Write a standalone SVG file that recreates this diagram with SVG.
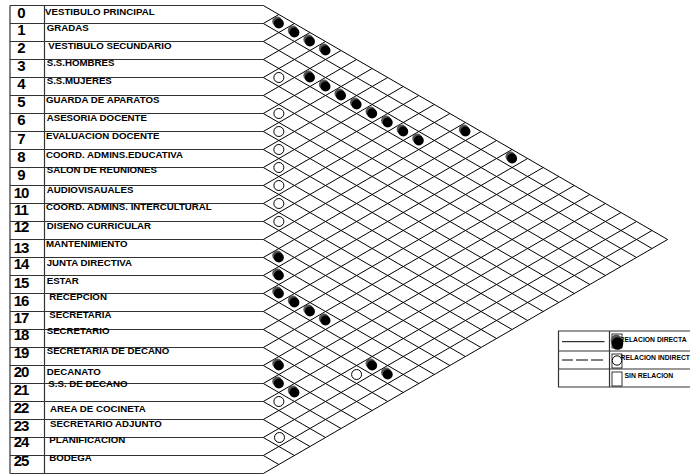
<svg xmlns="http://www.w3.org/2000/svg" xmlns:xlink="http://www.w3.org/1999/xlink" width="690" height="474" viewBox="0 0 690 474">
<style>
.num{font-family:"Liberation Sans",Arial,sans-serif;font-weight:bold;font-size:15px;text-anchor:middle;letter-spacing:-1px;fill:#000}
.lbl{font-family:"Liberation Sans",Arial,sans-serif;font-weight:bold;font-size:9.7px;fill:#000}
.lg{font-family:"Liberation Sans",Arial,sans-serif;font-weight:bold;font-size:6.8px;fill:#000}
.tbl{stroke:#333;stroke-width:1.2;fill:none}
.grid{stroke:#000;stroke-width:1;fill:none}
.open{fill:#fff;stroke:#000;stroke-width:1}
</style>
<defs>
<g id="dotF"><circle cx="-1.6" cy="-2" r="5" fill="#555"/><circle cx="0" cy="0" r="5" fill="#000"/></g>
</defs>
<rect width="690" height="474" fill="#fff"/>
<g id="table">
<path class="tbl" d="M10 5.5V473.5M44.5 5.5V473.5"/>
<path class="tbl" d="M10 5.5H263.3M10 23.5H263.3M10 41.5H263.3M10 59.5H263.3M10 77.5H263.3M10 95.5H263.3M10 113.5H263.3M10 131.5H263.3M10 149.5H263.3M10 167.5H263.3M10 185.5H263.3M10 203.5H263.3M10 221.5H263.3M10 239.5H263.3M10 257.5H263.3M10 275.5H263.3M10 293.5H263.3M10 311.5H263.3M10 329.5H263.3M10 347.5H263.3M10 365.5H263.3M10 383.5H263.3M10 401.5H263.3M10 419.5H263.3M10 437.5H263.3M10 455.5H263.3M10 473.5H263.3"/>
</g>
<g id="row-0"><text class="num" x="21" y="17.5">0</text><text class="lbl" x="45" y="15">VESTIBULO PRINCIPAL</text></g>
<g id="row-1"><text class="num" x="21" y="35">1</text><text class="lbl" x="46.7" y="30.7">GRADAS</text></g>
<g id="row-2"><text class="num" x="21" y="53">2</text><text class="lbl" x="48.3" y="49.3">VESTIBULO SECUNDARIO</text></g>
<g id="row-3"><text class="num" x="21" y="71">3</text><text class="lbl" x="46.7" y="66">S.S.HOMBRES</text></g>
<g id="row-4"><text class="num" x="21" y="89">4</text><text class="lbl" x="46.7" y="84">S.S.MUJERES</text></g>
<g id="row-5"><text class="num" x="21" y="107">5</text><text class="lbl" x="46" y="102.7">GUARDA DE APARATOS</text></g>
<g id="row-6"><text class="num" x="21" y="125">6</text><text class="lbl" x="46.7" y="121">ASESORIA DOCENTE</text></g>
<g id="row-7"><text class="num" x="21" y="143.5">7</text><text class="lbl" x="46" y="139.3">EVALUACION DOCENTE</text></g>
<g id="row-8"><text class="num" x="21" y="161.5">8</text><text class="lbl" x="46" y="158.3">COORD. ADMINS.EDUCATIVA</text></g>
<g id="row-9"><text class="num" x="21" y="179.5">9</text><text class="lbl" x="46.7" y="173.3">SALON DE REUNIONES</text></g>
<g id="row-10"><text class="num" x="21" y="198">10</text><text class="lbl" x="46.7" y="192.7">AUDIOVISAUALES</text></g>
<g id="row-11"><text class="num" x="21" y="215">11</text><text class="lbl" x="46" y="210">COORD. ADMINS. INTERCULTURAL</text></g>
<g id="row-12"><text class="num" x="21" y="232">12</text><text class="lbl" x="46.7" y="229">DISEÑO CURRICULAR</text></g>
<g id="row-13"><text class="num" x="21" y="252.5">13</text><text class="lbl" x="46" y="247.3">MANTENIMIENTO</text></g>
<g id="row-14"><text class="num" x="21" y="269.3">14</text><text class="lbl" x="46.7" y="266">JUNTA DIRECTIVA</text></g>
<g id="row-15"><text class="num" x="21" y="287.7">15</text><text class="lbl" x="46.7" y="284.3">ESTAR</text></g>
<g id="row-16"><text class="num" x="21" y="306">16</text><text class="lbl" x="49.3" y="300">RECEPCION</text></g>
<g id="row-17"><text class="num" x="21" y="323.3">17</text><text class="lbl" x="49.3" y="317.7">SECRETARIA</text></g>
<g id="row-18"><text class="num" x="21" y="340">18</text><text class="lbl" x="46.7" y="334">SECRETARIO</text></g>
<g id="row-19"><text class="num" x="21" y="358.3">19</text><text class="lbl" x="46.7" y="354">SECRETARIA DE DECANO</text></g>
<g id="row-20"><text class="num" x="21" y="377.3">20</text><text class="lbl" x="46.7" y="375">DECANATO</text></g>
<g id="row-21"><text class="num" x="21" y="395">21</text><text class="lbl" x="48.3" y="386.7">S.S. DE DECANO</text></g>
<g id="row-22"><text class="num" x="21" y="413.3">22</text><text class="lbl" x="50" y="411.7">AREA DE COCINETA</text></g>
<g id="row-23"><text class="num" x="21" y="430.7">23</text><text class="lbl" x="50" y="426.7">SECRETARIO ADJUNTO</text></g>
<g id="row-24"><text class="num" x="21" y="447.3">24</text><text class="lbl" x="49.3" y="443.3">PLANIFICACION</text></g>
<g id="row-25"><text class="num" x="21" y="466">25</text><text class="lbl" x="49.3" y="461">BODEGA</text></g>
<g id="connectors">
<path class="grid" d="M263.3 5.5L667.6 239.5M263.3 23.5L652.05 248.5M263.3 41.5L636.5 257.5M263.3 59.5L620.95 266.5M263.3 77.5L605.4 275.5M263.3 95.5L589.85 284.5M263.3 113.5L574.3 293.5M263.3 131.5L558.75 302.5M263.3 149.5L543.2 311.5M263.3 167.5L527.65 320.5M263.3 185.5L512.1 329.5M263.3 203.5L496.55 338.5M263.3 221.5L481 347.5M263.3 239.5L465.45 356.5M263.3 257.5L449.9 365.5M263.3 275.5L434.35 374.5M263.3 293.5L418.8 383.5M263.3 311.5L403.25 392.5M263.3 329.5L387.7 401.5M263.3 347.5L372.15 410.5M263.3 365.5L356.6 419.5M263.3 383.5L341.05 428.5M263.3 401.5L325.5 437.5M263.3 419.5L309.95 446.5M263.3 437.5L294.4 455.5M263.3 455.5L278.85 464.5"/>
<path class="grid" d="M263.3 23.5L278.85 14.5M263.3 41.5L294.4 23.5M263.3 59.5L309.95 32.5M263.3 77.5L325.5 41.5M263.3 95.5L341.05 50.5M263.3 113.5L356.6 59.5M263.3 131.5L372.15 68.5M263.3 149.5L387.7 77.5M263.3 167.5L403.25 86.5M263.3 185.5L418.8 95.5M263.3 203.5L434.35 104.5M263.3 221.5L449.9 113.5M263.3 239.5L465.45 122.5M263.3 257.5L481 131.5M263.3 275.5L496.55 140.5M263.3 293.5L512.1 149.5M263.3 311.5L527.65 158.5M263.3 329.5L543.2 167.5M263.3 347.5L558.75 176.5M263.3 365.5L574.3 185.5M263.3 383.5L589.85 194.5M263.3 401.5L605.4 203.5M263.3 419.5L620.95 212.5M263.3 437.5L636.5 221.5M263.3 455.5L652.05 230.5M263.3 473.5L667.6 239.5"/>
</g>
<g id="relations">
<use xlink:href="#dotF" x="278.85" y="23.5"/>
<use xlink:href="#dotF" x="294.4" y="32.5"/>
<use xlink:href="#dotF" x="309.95" y="41.5"/>
<use xlink:href="#dotF" x="325.5" y="50.5"/>
<use xlink:href="#dotF" x="309.95" y="77.5"/>
<use xlink:href="#dotF" x="325.5" y="86.5"/>
<use xlink:href="#dotF" x="341.05" y="95.5"/>
<use xlink:href="#dotF" x="356.6" y="104.5"/>
<use xlink:href="#dotF" x="372.15" y="113.5"/>
<use xlink:href="#dotF" x="387.7" y="122.5"/>
<use xlink:href="#dotF" x="403.25" y="131.5"/>
<use xlink:href="#dotF" x="418.8" y="140.5"/>
<use xlink:href="#dotF" x="465.45" y="131.5"/>
<use xlink:href="#dotF" x="512.1" y="158.5"/>
<use xlink:href="#dotF" x="278.85" y="257.5"/>
<use xlink:href="#dotF" x="278.85" y="275.5"/>
<use xlink:href="#dotF" x="278.85" y="293.5"/>
<use xlink:href="#dotF" x="294.4" y="302.5"/>
<use xlink:href="#dotF" x="309.95" y="311.5"/>
<use xlink:href="#dotF" x="325.5" y="320.5"/>
<use xlink:href="#dotF" x="278.85" y="365.5"/>
<use xlink:href="#dotF" x="278.85" y="383.5"/>
<use xlink:href="#dotF" x="294.4" y="392.5"/>
<use xlink:href="#dotF" x="372.15" y="365.5"/>
<use xlink:href="#dotF" x="387.7" y="374.5"/>
<circle class="open" cx="278.85" cy="77.5" r="5"/>
<circle class="open" cx="278.85" cy="113.5" r="5"/>
<circle class="open" cx="278.85" cy="131.5" r="5"/>
<circle class="open" cx="278.85" cy="149.5" r="5"/>
<circle class="open" cx="278.85" cy="167.5" r="5"/>
<circle class="open" cx="278.85" cy="185.5" r="5"/>
<circle class="open" cx="278.85" cy="203.5" r="5"/>
<circle class="open" cx="278.85" cy="221.5" r="5"/>
<circle class="open" cx="278.85" cy="401.5" r="5"/>
<circle class="open" cx="279.5" cy="437.5" r="5"/>
<circle class="open" cx="356.6" cy="374.5" r="5"/>
</g>
<g id="legend">
<path class="tbl" d="M700 331H558.5V387H700M558.5 351H700M558.5 369H700M609.5 331V387"/>
<path class="grid" d="M562 341.7H604.5"/>
<path class="grid" d="M562 360H573M576 360H588M591 360H603"/>
<rect x="612" y="334" width="10" height="14" fill="#fff" stroke="#000" stroke-width="0.8"/>
<text class="lg" x="619.5" y="342">RELACION DIRECTA</text>
<ellipse cx="616.3" cy="340.5" rx="5.6" ry="6" fill="#555"/>
<ellipse cx="617.5" cy="343.5" rx="5.8" ry="6.3" fill="#000"/>
<rect x="612" y="354" width="10" height="14" fill="#fff" stroke="#000" stroke-width="0.8"/>
<text class="lg" x="620.5" y="360">RELACION INDIRECT</text>
<circle class="open" cx="617" cy="360.5" r="4.7"/>
<rect x="612" y="372" width="10" height="14" fill="#fff" stroke="#000" stroke-width="0.8"/>
<text class="lg" x="624.5" y="377.5">SIN RELACION</text>
</g>
</svg>
